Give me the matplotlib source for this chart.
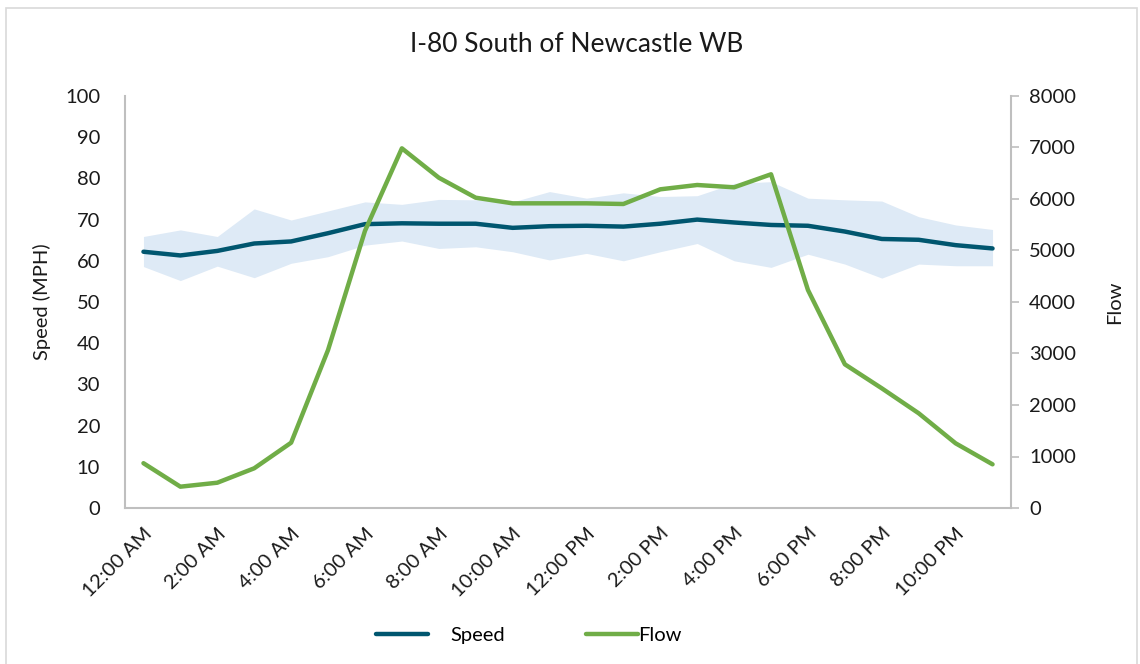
import matplotlib
matplotlib.use("Agg")
import matplotlib.pyplot as plt
from matplotlib.patches import Rectangle
import numpy as np

hours = list(range(24))
tick_labels = ["12:00 AM", "2:00 AM", "4:00 AM", "6:00 AM", "8:00 AM", "10:00 AM",
               "12:00 PM", "2:00 PM", "4:00 PM", "6:00 PM", "8:00 PM", "10:00 PM"]

speed = [62.2, 61.3, 62.4, 64.2, 64.7, 66.7, 68.9, 69.1, 69.0, 69.0, 68.0, 68.4,
         68.5, 68.3, 69.0, 70.0, 69.3, 68.7, 68.5, 67.1, 65.3, 65.1, 63.8, 63.0]
band_upper = [65.9, 67.5, 65.9, 72.6, 69.9, 72.1, 74.3, 73.7, 74.9, 74.8, 74.3, 76.8,
              75.2, 76.5, 75.6, 75.8, 78.8, 79.2, 75.2, 74.8, 74.5, 70.7, 68.7, 67.6]
band_lower = [58.6, 55.2, 58.7, 55.9, 59.4, 61.0, 63.8, 64.8, 63.0, 63.4, 62.2, 60.2,
              61.8, 60.0, 62.2, 64.2, 60.0, 58.4, 61.6, 59.2, 55.8, 59.2, 58.8, 58.8]
flow = [870, 414, 491, 771, 1268, 3068, 5380, 6984, 6414, 6025, 5916, 5916,
        5916, 5903, 6188, 6272, 6227, 6480, 4233, 2790, 2324, 1839, 1256, 848]

SPEED_C = "#00566F"
FLOW_C = "#70AD47"
BAND_C = "#DEEAF6"
AX_C = "#BFBFBF"
TXT_C = "#1a1a1a"
FS = 14.5

plt.rcParams['font.family'] = ['Lato', 'DejaVu Sans']

fig = plt.figure(figsize=(11.4, 6.64), dpi=100)
fig.patches.append(Rectangle((6/1140, -0.01), 1131/1140, 1 - 8/664 + 0.01,
                             transform=fig.transFigure, fill=False,
                             edgecolor="#D9D9D9", linewidth=1.2))

ax = fig.add_axes([125/1140, 1 - 508/664, (1011 - 125)/1140, (508 - 96)/664])
ax2 = ax.twinx()

ax.fill_between(hours, band_lower, band_upper, color=BAND_C, linewidth=0, zorder=1)
l1, = ax.plot(hours, speed, color=SPEED_C, linewidth=3.2, zorder=3,
              solid_capstyle='round', label="Speed")
l2, = ax2.plot(hours, flow, color=FLOW_C, linewidth=3.2, zorder=3,
               solid_capstyle='round', label="Flow")

ax.set_xlim(-0.5, 23.5)
ax.set_ylim(0, 100)
ax.set_yticks(range(0, 101, 10))
ax2.set_ylim(0, 8000)
ax2.set_yticks(range(0, 8001, 1000))

ax.set_xticks(hours[::2])
ax.set_xticklabels(tick_labels, rotation=45, ha='right', rotation_mode='anchor',
                   fontsize=FS, color=TXT_C)
ax.tick_params(axis='x', length=0, pad=12)
ax.tick_params(axis='y', length=0, pad=18, labelsize=FS, labelcolor=TXT_C)
ax2.tick_params(axis='y', length=6, width=1.2, color=AX_C, pad=7,
                labelsize=FS, labelcolor=TXT_C)

for a in (ax, ax2):
    for s in a.spines.values():
        s.set_visible(False)
ax.spines['left'].set_visible(True)
ax.spines['bottom'].set_visible(True)
ax2.spines['right'].set_visible(True)
for s in (ax.spines['left'], ax.spines['bottom'], ax2.spines['right']):
    s.set_color(AX_C)
    s.set_linewidth(1.5)

ax.set_ylabel("Speed (MPH)", fontsize=FS, color=TXT_C, labelpad=10)
ax2.set_ylabel("Flow", fontsize=FS, color=TXT_C, labelpad=22)

fig.text(577/1140, 1 - 45/664, "I-80 South of Newcastle WB", ha='center', va='center',
         fontsize=19, color=TXT_C)

ax.set_zorder(ax2.get_zorder() - 1)
ax2.patch.set_visible(False)
ax.patch.set_visible(True)

leg1 = fig.legend([l1], ["Speed"], loc='center left', bbox_to_anchor=(376/1140, 1 - 635/664),
                  frameon=False, fontsize=FS, handlelength=2.6, handletextpad=1.1,
                  borderaxespad=0, borderpad=0)
leg2 = fig.legend([l2], ["Flow"], loc='center left', bbox_to_anchor=(586/1140, 1 - 635/664),
                  frameon=False, fontsize=FS, handlelength=2.6, handletextpad=0.0,
                  borderaxespad=0, borderpad=0)

fig.savefig("out.png", dpi=100, facecolor='white')
